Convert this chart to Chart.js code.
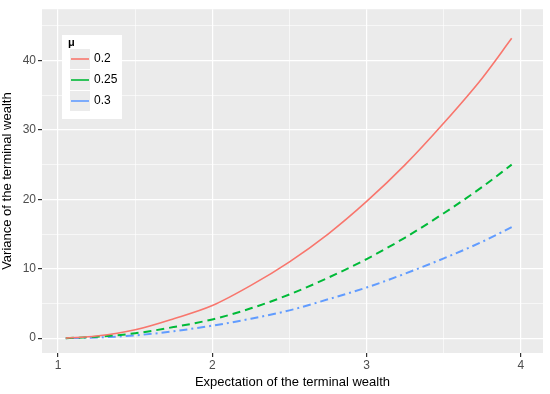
<!DOCTYPE html>
<html lang="en">
<head>
<meta charset="UTF-8">
<title>Variance vs expectation of terminal wealth</title>
<script src="https://cdn.jsdelivr.net/npm/chart.js"></script>
<style>
  html, body { margin: 0; padding: 0; background: #fff; }
  #wrap { width: 550px; height: 394px; }
</style>
</head>
<body>
<div id="wrap"><canvas id="myChart" width="550" height="394"></canvas></div>
<script>
// values
const expectation = [1.05, 1.25, 1.5, 1.75, 2.0, 2.25, 2.5, 2.75, 3.0, 3.25, 3.5, 3.75, 3.94];
const varMu020 = [0, 0.3, 1.2, 2.8, 4.7, 7.6, 11.0, 15.0, 19.7, 25.0, 31.0, 37.5, 43.2];
const varMu025 = [0, 0.2, 0.7, 1.6, 2.7, 4.3, 6.3, 8.7, 11.4, 14.5, 18.0, 21.8, 25.0];
const varMu030 = [0, 0.1, 0.4, 1.0, 1.8, 2.8, 4.0, 5.6, 7.3, 9.3, 11.5, 13.9, 16.0];
const seriesLabels = ['0.2', '0.25', '0.3'];
const legendTitle = 'μ';

const FONT = '"Liberation Sans", Arial, sans-serif';

function toPoints(ys) {
  return expectation.map((x, i) => ({ x: x, y: ys[i] }));
}

// grey panel behind the plot
const panelBg = {
  id: 'panelBg',
  beforeDraw(chart) {
    const a = chart.chartArea, ctx = chart.ctx;
    ctx.save();
    ctx.fillStyle = '#EBEBEB';
    ctx.fillRect(a.left, a.top, a.right - a.left, a.bottom - a.top);
    ctx.restore();
  }
};

// ggplot-like legend inside the panel
const ggLegend = {
  id: 'ggLegend',
  afterDraw(chart) {
    const ctx = chart.ctx;
    const x0 = 62, y0 = 35;
    ctx.save();
    ctx.fillStyle = '#fff';
    ctx.fillRect(x0, y0, 60, 84);
    ctx.fillStyle = '#000';
    ctx.font = 'bold 11px ' + FONT;
    ctx.textBaseline = 'middle';
    ctx.fillText(legendTitle, x0 + 6, y0 + 8);
    chart.data.datasets.forEach((ds, i) => {
      const ky = y0 + 14 + i * 21;
      ctx.fillStyle = '#EBEBEB';
      ctx.fillRect(x0 + 8, ky, 20, 20);
      ctx.strokeStyle = ds.borderColor;
      ctx.lineWidth = 1.6;
      ctx.setLineDash([]);
      ctx.beginPath();
      ctx.moveTo(x0 + 9, ky + 10);
      ctx.lineTo(x0 + 27, ky + 10);
      ctx.stroke();
      ctx.fillStyle = '#000';
      ctx.font = '12px ' + FONT;
      ctx.fillText(ds.label, x0 + 32, ky + 10);
    });
    ctx.restore();
  }
};

const gridColor = '#FFFFFF';

const config = {
  type: 'line',
  data: {
    datasets: [
      { label: seriesLabels[0], data: toPoints(varMu020), borderColor: '#F8766D', borderWidth: 1.6, borderDash: [] },
      { label: seriesLabels[1], data: toPoints(varMu025), borderColor: '#00BA38', borderWidth: 2, borderDash: [8, 5] },
      { label: seriesLabels[2], data: toPoints(varMu030), borderColor: '#619CFF', borderWidth: 2, borderDash: [2, 4, 8, 4] }
    ]
  },
  options: {
    responsive: false,
    animation: false,
    devicePixelRatio: 1,
    layout: { padding: { left: 0, right: 7, top: 6, bottom: 0 } },
    elements: { point: { radius: 0 }, line: { cubicInterpolationMode: 'monotone', fill: false } },
    plugins: { legend: { display: false }, tooltip: { enabled: false } },
    scales: {
      x: {
        type: 'linear',
        min: 0.896,
        max: 4.143,
        afterFit(s) { s.height = 41; },
        border: { display: false },
        grid: {
          color: gridColor,
          lineWidth: c => (c.tick && Number.isInteger(c.tick.value)) ? 1.2 : 0.6,
          tickColor: c => (c.tick && Number.isInteger(c.tick.value)) ? '#333333' : 'rgba(0,0,0,0)',
          tickLength: 4,
          drawOnChartArea: true
        },
        ticks: {
          stepSize: 0.5,
          includeBounds: false,
          autoSkip: false,
          maxRotation: 0,
          color: '#4D4D4D',
          font: { family: FONT, size: 12 },
          padding: 1,
          callback: v => Number.isInteger(v) ? String(v) : ''
        },
        title: {
          display: true,
          text: 'Expectation of the terminal wealth',
          color: '#000',
          font: { family: FONT, size: 13 },
          padding: { top: 0, bottom: 4 }
        }
      },
      y: {
        type: 'linear',
        min: -2.14,
        max: 47.4,
        afterFit(s) { s.width = 42; },
        border: { display: false },
        grid: {
          color: gridColor,
          lineWidth: c => (c.tick && c.tick.value % 10 === 0) ? 1.2 : 0.6,
          tickColor: c => (c.tick && c.tick.value % 10 === 0) ? '#333333' : 'rgba(0,0,0,0)',
          tickLength: 4
        },
        ticks: {
          stepSize: 5,
          includeBounds: false,
          autoSkip: false,
          color: '#4D4D4D',
          font: { family: FONT, size: 12 },
          padding: 2,
          callback: v => (v % 10 === 0) ? String(v) : ''
        },
        title: {
          display: true,
          text: 'Variance of the terminal wealth',
          color: '#000',
          font: { family: FONT, size: 13 },
          padding: { top: 0, bottom: 2 }
        }
      }
    }
  },
  plugins: [panelBg, ggLegend]
};

const myChart = new Chart(document.getElementById('myChart'), config);
</script>
</body>
</html>
